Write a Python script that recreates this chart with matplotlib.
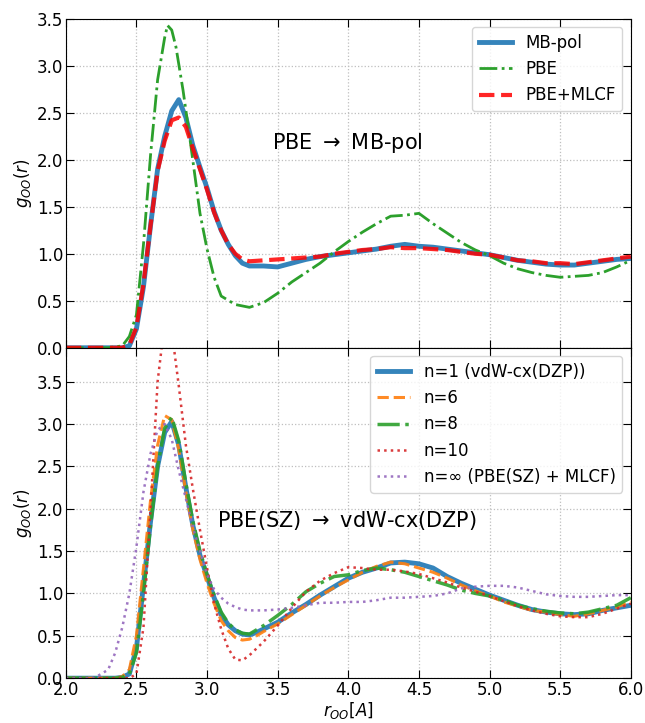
import matplotlib
matplotlib.use("Agg")
import matplotlib.pyplot as plt

# top panel: PBE -> MB-pol
r_top = [2.0, 2.3, 2.4, 2.45, 2.5, 2.55, 2.6, 2.65, 2.7, 2.75, 2.8, 2.85, 2.9, 2.95,
         3.0, 3.05, 3.1, 3.15, 3.2, 3.25, 3.3, 3.4, 3.5, 3.6, 3.7, 3.8, 3.9, 4.0,
         4.1, 4.2, 4.3, 4.4, 4.5, 4.6, 4.7, 4.8, 4.9, 5.0, 5.1, 5.2, 5.3, 5.4, 5.5,
         5.6, 5.7, 5.8, 5.9, 6.0]
g_mbpol = [0, 0, 0.0, 0.02, 0.2, 0.65, 1.3, 1.9, 2.25, 2.52, 2.64, 2.45, 2.15, 1.92,
           1.7, 1.45, 1.25, 1.1, 0.98, 0.9, 0.87, 0.87, 0.86, 0.9, 0.94, 0.97, 0.99, 1.01,
           1.03, 1.05, 1.08, 1.1, 1.08, 1.07, 1.05, 1.03, 1.01, 0.99, 0.96, 0.93, 0.91, 0.89, 0.88,
           0.88, 0.9, 0.92, 0.94, 0.95]
g_mlcf = [0, 0, 0.0, 0.03, 0.22, 0.68, 1.3, 1.88, 2.2, 2.42, 2.45, 2.35, 2.12, 1.9,
          1.68, 1.44, 1.25, 1.1, 1.0, 0.94, 0.92, 0.93, 0.94, 0.95, 0.96, 0.97, 1.0, 1.02,
          1.04, 1.05, 1.07, 1.06, 1.06, 1.05, 1.04, 1.02, 1.0, 0.99, 0.96, 0.93, 0.92, 0.9, 0.9,
          0.89, 0.91, 0.93, 0.95, 0.97]

r_pbe = [2.0, 2.3, 2.4, 2.45, 2.5, 2.55, 2.6, 2.65, 2.7, 2.72, 2.75, 2.78, 2.83, 2.88,
         2.95, 3.0, 3.05, 3.1, 3.2, 3.3, 3.4, 3.5, 3.6, 3.7, 3.8, 3.9, 4.0, 4.1, 4.2,
         4.3, 4.4, 4.5, 4.6, 4.7, 4.8, 4.9, 5.0, 5.1, 5.2, 5.3, 5.4, 5.5, 5.6, 5.7,
         5.8, 5.9, 6.0]
g_pbe = [0, 0, 0.02, 0.12, 0.35, 1.1, 2.05, 2.85, 3.3, 3.43, 3.38, 3.2, 2.74, 2.21,
         1.43, 1.05, 0.75, 0.55, 0.46, 0.43, 0.48, 0.58, 0.7, 0.8, 0.9, 1.02, 1.13, 1.23, 1.32,
         1.4, 1.41, 1.43, 1.32, 1.22, 1.12, 1.04, 0.98, 0.9, 0.84, 0.8, 0.77, 0.75, 0.76, 0.77,
         0.8, 0.86, 0.93]

# bottom panel: PBE(SZ) -> vdW-cx(DZP)
r_bot = [2.0, 2.2, 2.3, 2.35, 2.4, 2.45, 2.5, 2.55, 2.6, 2.65, 2.7, 2.75, 2.8, 2.85,
         2.9, 2.95, 3.0, 3.05, 3.1, 3.15, 3.2, 3.25, 3.3, 3.35, 3.4, 3.5, 3.6, 3.7,
         3.8, 3.9, 4.0, 4.1, 4.2, 4.3, 4.4, 4.5, 4.6, 4.7, 4.8, 4.9, 5.0, 5.1, 5.2,
         5.3, 5.4, 5.5, 5.6, 5.7, 5.8, 5.9, 6.0]
g_n1 = [0, 0, 0, 0, 0.01, 0.05, 0.35, 1.1, 1.85, 2.5, 2.9, 3.03, 2.75, 2.25,
        1.8, 1.45, 1.2, 0.95, 0.75, 0.63, 0.56, 0.52, 0.51, 0.54, 0.58, 0.66, 0.77, 0.87,
        0.98, 1.08, 1.18, 1.25, 1.3, 1.36, 1.37, 1.35, 1.3, 1.2, 1.12, 1.05, 0.98, 0.92, 0.86,
        0.81, 0.78, 0.76, 0.75, 0.76, 0.8, 0.83, 0.86]
g_n6 = [0, 0, 0, 0, 0.02, 0.1, 0.5, 1.3, 2.1, 2.75, 3.1, 3.05, 2.7, 2.2,
        1.75, 1.4, 1.12, 0.88, 0.68, 0.56, 0.48, 0.45, 0.46, 0.5, 0.55, 0.64, 0.75, 0.86,
        0.97, 1.07, 1.16, 1.25, 1.32, 1.37, 1.35, 1.3, 1.25, 1.18, 1.1, 1.03, 0.97, 0.9, 0.85,
        0.8, 0.78, 0.75, 0.73, 0.76, 0.8, 0.84, 0.9]
g_n8 = [0, 0, 0, 0, 0.01, 0.05, 0.3, 1.0, 1.8, 2.5, 2.95, 3.08, 2.8, 2.3,
        1.85, 1.5, 1.22, 0.98, 0.78, 0.65, 0.57, 0.53, 0.52, 0.57, 0.62, 0.74, 0.87, 1.02,
        1.12, 1.2, 1.22, 1.27, 1.3, 1.28, 1.25, 1.2, 1.15, 1.1, 1.04, 1.0, 0.97, 0.92, 0.86,
        0.82, 0.79, 0.77, 0.76, 0.78, 0.82, 0.86, 0.95]
g_n10 = [0, 0, 0, 0, 0, 0.0, 0.05, 0.6, 2.0, 3.5, 4.2, 4.1, 3.45, 2.75,
         2.23, 1.75, 1.3, 0.88, 0.58, 0.35, 0.22, 0.21, 0.27, 0.35, 0.43, 0.62, 0.83, 1.02,
         1.15, 1.24, 1.31, 1.3, 1.28, 1.28, 1.26, 1.23, 1.18, 1.13, 1.07, 1.02, 0.97, 0.91, 0.85,
         0.8, 0.76, 0.73, 0.72, 0.72, 0.76, 0.82, 0.88]
g_ninf = [0, 0, 0.1, 0.3, 0.6, 1.0, 1.55, 2.2, 2.65, 2.93, 3.0, 2.82, 2.45, 2.12,
          1.78, 1.5, 1.22, 1.05, 0.95, 0.88, 0.84, 0.81, 0.8, 0.8, 0.8, 0.81, 0.83, 0.86,
          0.89, 0.89, 0.9, 0.9, 0.92, 0.95, 0.95, 0.96, 0.97, 1.0, 1.06, 1.08, 1.09, 1.09, 1.07,
          1.03, 0.99, 0.97, 0.96, 0.96, 0.97, 0.98, 0.98]

fig = plt.figure(figsize=(6.45, 7.23), dpi=100)
ax1 = fig.add_axes([0.102, 0.519, 0.876, 0.455])
ax2 = fig.add_axes([0.102, 0.062, 0.876, 0.457], sharex=ax1)

ax1.plot(r_top, g_mbpol, color="tab:blue", lw=3.5, alpha=0.9, label="MB-pol")
ax1.plot(r_pbe, g_pbe, color="tab:green", ls="-.", lw=2, label="PBE")
ax1.plot(r_top, g_mlcf, color="red", ls="--", lw=3, alpha=0.85, label="PBE+MLCF")
ax1.text(3.99, 2.18, "PBE $\\rightarrow$ MB-pol", fontsize=15, ha="center", va="center")
ax1.set_ylim(0, 3.5)
ax1.legend(loc="upper right", fontsize=12)

ax2.plot(r_bot, g_n1, color="tab:blue", lw=3.5, alpha=0.9, label="n=1 (vdW-cx(DZP))")
ax2.plot(r_bot, g_n6, color="tab:orange", ls="--", lw=2.2, alpha=0.9, label="n=6")
ax2.plot(r_bot, g_n8, color="tab:green", ls="-.", lw=2.5, alpha=0.9, label="n=8")
ax2.plot(r_bot, g_n10, color="tab:red", ls=":", lw=1.8, alpha=0.9, label="n=10")
ax2.plot(r_bot, g_ninf, color="tab:purple", ls=":", lw=1.8, alpha=0.9,
         label="n=\u221e (PBE(SZ) + MLCF)")
ax2.text(3.99, 1.86, "PBE(SZ) $\\rightarrow$ vdW-cx(DZP)", fontsize=15, ha="center", va="center")
ax2.set_ylim(0, 3.9)
ax2.legend(loc="upper right", fontsize=12)

for ax in (ax1, ax2):
    ax.set_xlim(2.0, 6.0)
    ax.set_yticks([0.0, 0.5, 1.0, 1.5, 2.0, 2.5, 3.0, 3.5])
    ax.set_ylabel("$g_{OO}(r)$", fontsize=12, labelpad=2)
    ax.tick_params(direction="in", top=True, right=True, labelsize=12, length=6, pad=2)
    ax.grid(True, ls=":", color="0.75", lw=0.9)

ax1.tick_params(labelbottom=False)
ax2.set_xlabel("$r_{OO}[A]$", fontsize=12, labelpad=1)

fig.savefig("out.png", dpi=100)
